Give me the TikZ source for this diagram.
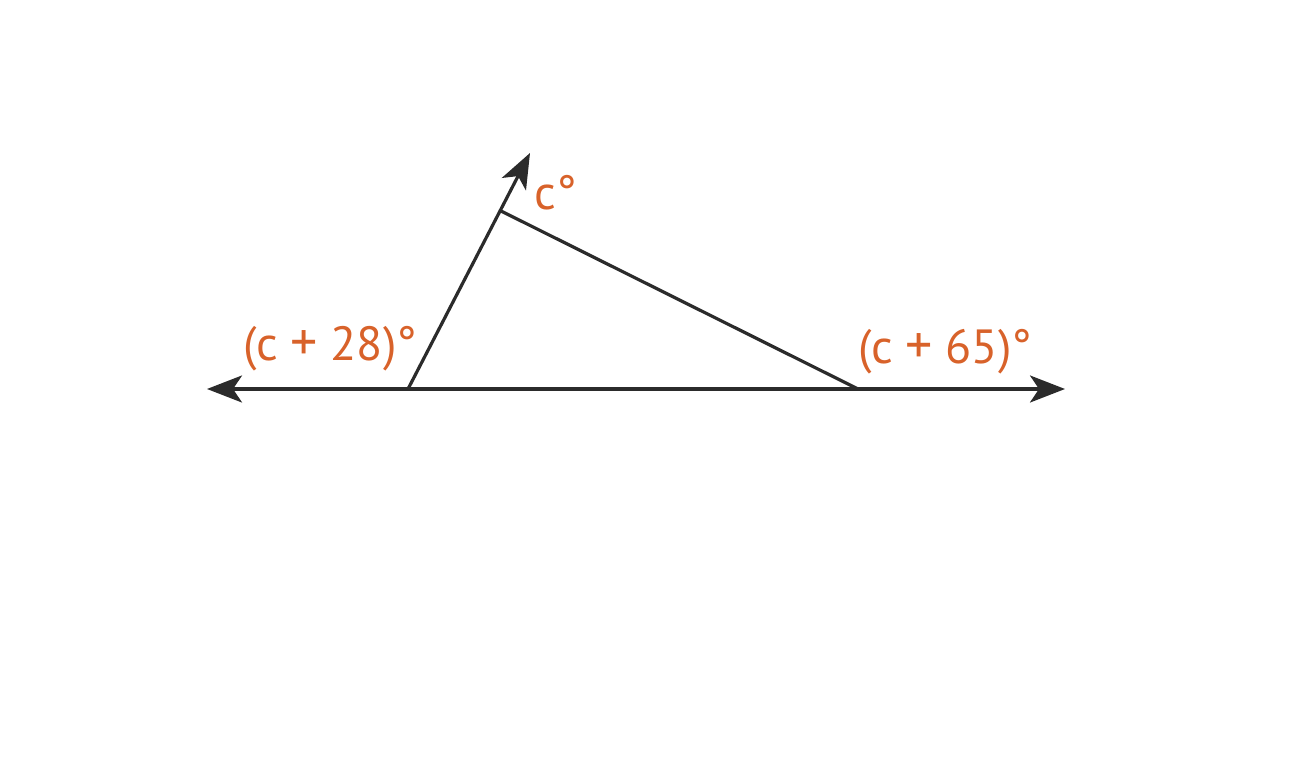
\documentclass[tikz,border=0pt]{standalone}
\usepackage{fontspec}
\setmainfont{PT Sans}
\usetikzlibrary{arrows.meta}
\definecolor{lbl}{HTML}{D8622A}
\definecolor{ink}{HTML}{2B2B2B}
\newcommand{\bigplus}{{\fontsize{54}{56}\selectfont +}}
\tikzset{
  x=1pt,y=1pt,
  edge/.style={draw=ink,line width=3.2pt},
  tip/.style={-{Stealth[length=35pt,width=27pt,inset=9pt]}},
  lab/.style={text=lbl,font=\fontsize{48}{52}\selectfont,inner sep=0pt}
}
\begin{document}
\begin{tikzpicture}
\useasboundingbox (0,0) rectangle (1300,774);
\coordinate (A) at (408,385);
\coordinate (B) at (501,563);
\coordinate (C) at (858,385);
\coordinate (L) at (207,385);
\coordinate (R) at (1065,385);
\coordinate (T) at (530,621);
\draw[edge,tip] (C) -- (L);
\draw[edge,tip] (A) -- (R);
\draw[edge,tip] (A) -- (T);
\draw[edge] (B) -- (C);
\node[lab] (c1) at (556,581) {c°};
\node[lab] (c2) at (330,425) {(c \bigplus{} 28)°};
\node[lab] (c3) at (945,422) {(c \bigplus{} 65)°};
\end{tikzpicture}
\end{document}
